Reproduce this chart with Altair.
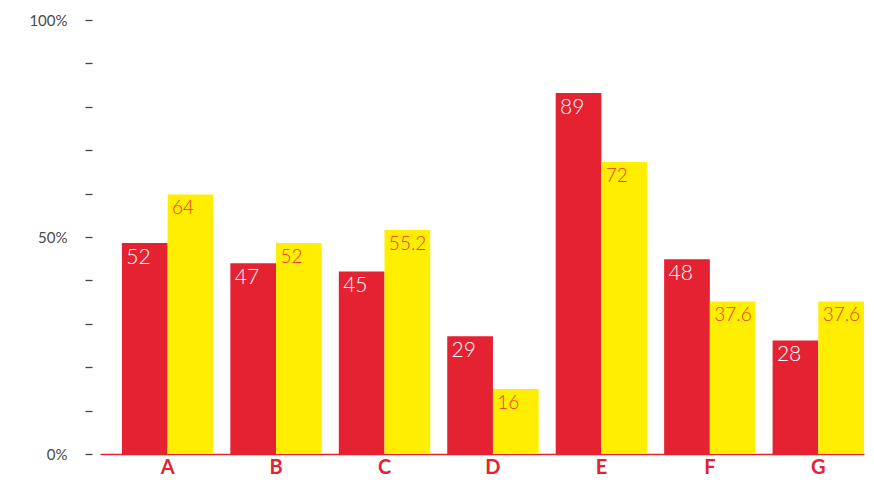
import altair as alt
import pandas as pd

categories = ["A", "B", "C", "D", "E", "F", "G"]
red_values = [52, 47, 45, 29, 89, 48, 28]
yellow_values = [64, 52, 55.2, 16, 72, 37.6, 37.6]
series_names = ["red", "yellow"]

rows = []
for c, r, y in zip(categories, red_values, yellow_values):
    rows.append({"cat": c, "series": "red", "value": r, "label": f"{r:g}"})
    rows.append({"cat": c, "series": "yellow", "value": y, "label": f"{y:g}"})
df = pd.DataFrame(rows)

RED = "#E42232"
YELLOW = "#FFEE00"
UNIT = 1.07  # one axis "percent" in data units
tick_vals = [round(i * 10 * UNIT, 4) for i in range(11)]

x_enc = alt.X("cat:N", sort=categories,
              scale=alt.Scale(paddingInner=0.157, paddingOuter=0.101, align=1),
              axis=alt.Axis(title=None, labelAngle=0, ticks=False, domainColor=RED,
                            domainWidth=1.5, labelColor=RED, labelFontSize=20,
                            labelFont="Lato", labelFontWeight="bold", labelPadding=3))
y_enc = alt.Y("value:Q", scale=alt.Scale(domain=[0, 107], nice=False, zero=True),
              axis=alt.Axis(title=None, values=tick_vals, grid=False, domain=False,
                            offset=8, tickSize=7, tickWidth=1.3, tickColor="#444",
                            labelPadding=18, labelFontSize=15, labelColor="#4a4a4a",
                            labelFont="Lato",
                            labelExpr="round(datum.value / 1.07) % 50 == 0 ? round(datum.value / 1.07) + '%' : ''"))
xo = alt.XOffset("series:N", sort=series_names, scale=alt.Scale(paddingInner=0, paddingOuter=0))

base = alt.Chart(df)

bars = base.mark_bar().encode(
    x=x_enc, y=y_enc, xOffset=xo,
    color=alt.Color("series:N", scale=alt.Scale(domain=series_names, range=[RED, YELLOW]), legend=None),
)

red_text = base.transform_filter(alt.datum.series == "red").mark_text(
    align="left", baseline="alphabetic", dx=-18.5, dy=21, fontSize=21,
    font="Lato", fontWeight=300, color="white"
).encode(x=x_enc, y=y_enc, xOffset=xo, text="label:N")

yellow_text = base.transform_filter(alt.datum.series == "yellow").mark_text(
    align="left", baseline="alphabetic", dx=-18.5, dy=20, fontSize=19,
    font="Lato", fontWeight=300, color="#E8372C"
).encode(x=x_enc, y=y_enc, xOffset=xo, text="label:N")

chart = alt.layer(bars, red_text, yellow_text).properties(
    width=764, height=434,
    autosize=alt.AutoSizeParams(type="none"),
    padding={"left": 92, "top": 12, "right": 2, "bottom": 22},
).configure_view(stroke=None)

chart.save("out.html", embed_options={"renderer": "svg", "actions": False})
